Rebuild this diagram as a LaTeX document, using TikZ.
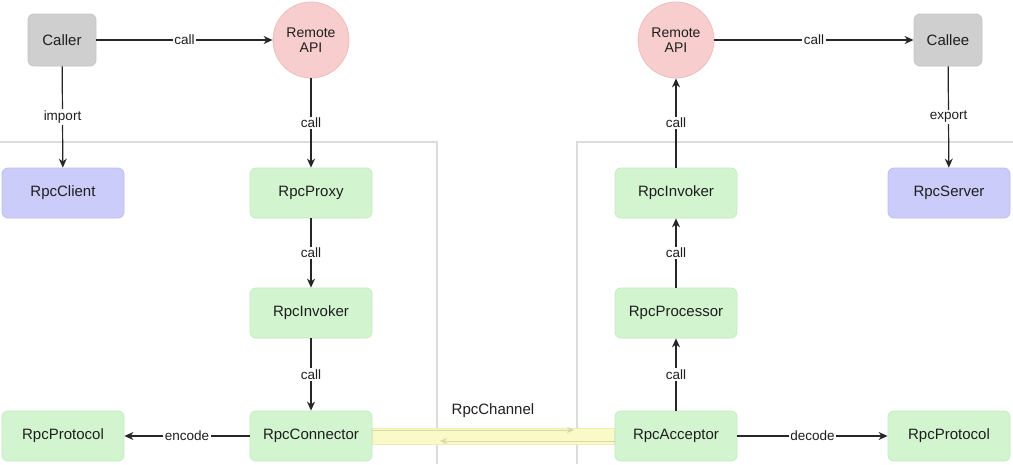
\documentclass[tikz,border=0pt]{standalone}
\usepackage{fontspec}
\setmainfont{Liberation Sans}
\usetikzlibrary{arrows.meta,backgrounds}
\definecolor{grayfill}{HTML}{CFCFCF}
\definecolor{grayedge}{HTML}{C4C4C4}
\definecolor{pinkfill}{HTML}{F8CDCD}
\definecolor{pinkedge}{HTML}{F0BDBD}
\definecolor{bluefill}{HTML}{CCCCFA}
\definecolor{blueedge}{HTML}{BDBDEE}
\definecolor{greenfill}{HTML}{D2F5D0}
\definecolor{greenedge}{HTML}{C2EBC0}
\definecolor{chanfill}{HTML}{FAFAC8}
\definecolor{chanedge}{HTML}{EDEDB5}
\definecolor{framecol}{HTML}{DCDCDC}
\definecolor{linecol}{HTML}{262626}
\definecolor{textcol}{HTML}{1E1E1E}
\tikzset{
  box/.style={rounded corners=6pt, minimum width=122pt, minimum height=50pt, inner sep=0pt,
    text=textcol, font=\fontsize{15}{17}\selectfont, line width=0.8pt},
  greenbox/.style={box, fill=greenfill, draw=greenedge},
  bluebox/.style={box, fill=bluefill, draw=blueedge},
  graybox/.style={box, fill=grayfill, draw=grayedge, minimum width=68pt, minimum height=52pt},
  api/.style={circle, minimum size=76pt, inner sep=0pt, fill=pinkfill, draw=pinkedge,
    text=textcol, align=center, font=\fontsize{14}{15.5}\selectfont, line width=0.8pt},
  conn/.style={draw=linecol, line width=1.2pt, -{Stealth[length=9pt,width=8pt]}},
  lbl/.style={fill=white, inner sep=1.5pt, text=textcol, font=\fontsize{13.5}{15}\selectfont},
  framel/.style={draw=framecol, line width=1.2pt},
  faint/.style={draw=chanedge!80!gray, line width=0.6pt, -{Stealth[length=7pt,width=6pt]}}
}
\begin{document}
\begin{tikzpicture}[x=1pt,y=-1pt]
\useasboundingbox (0,0) rectangle (1013,464);
% nodes
\node[graybox] (caller) at (62,40) {Caller};
\node[api] (rapiL) at (311,40) {Remote\\API};
\node[bluebox] (client) at (63,193) {RpcClient};
\node[greenbox] (proxy) at (311,193) {RpcProxy};
\node[greenbox] (invL) at (311,313) {RpcInvoker};
\node[greenbox] (connector) at (311,436) {RpcConnector};
\node[greenbox] (protoL) at (63,436) {RpcProtocol};
\node[api] (rapiR) at (676,40) {Remote\\API};
\node[graybox] (callee) at (948,40) {Callee};
\node[greenbox] (invR) at (676,193) {RpcInvoker};
\node[greenbox] (proc) at (676,313) {RpcProcessor};
\node[greenbox] (acc) at (676,436) {RpcAcceptor};
\node[greenbox] (protoR) at (949,436) {RpcProtocol};
\node[bluebox] (server) at (949,193) {RpcServer};
\begin{pgfonlayer}{background}
% frames
\draw[framel] (0,142) -- (437,142) -- (437,464);
\draw[framel] (1013,142) -- (577,142) -- (577,464);
% channel band
\draw[line width=17pt, draw=chanedge] (connector.east) -- (acc.west);
\draw[line width=15pt, draw=chanfill] ([xshift=0.5pt]connector.east) -- ([xshift=-0.5pt]acc.west);
\end{pgfonlayer}
\coordinate (chR) at (574,430);
\coordinate (chL) at (440,441);
\draw[faint] ([yshift=6pt]connector.east) -- (chR);
\draw[faint] ([yshift=-5pt]acc.west) -- (chL);
\node[text=textcol, font=\fontsize{15}{17}\selectfont] (chan) at (493,411) {RpcChannel};
% connectors
\draw[conn] (caller) -- node[lbl]{call} (rapiL);
\draw[conn] (caller) -- node[lbl]{import} (client);
\draw[conn] (rapiL) -- node[lbl]{call} (proxy);
\draw[conn] (proxy) -- node[lbl]{call} (invL);
\draw[conn] (invL) -- node[lbl]{call} (connector);
\draw[conn] (connector) -- node[lbl]{encode} (protoL);
\draw[conn] (rapiR) -- node[lbl]{call} (callee);
\draw[conn] (callee) -- node[lbl]{export} (server);
\draw[conn] (invR) -- node[lbl]{call} (rapiR);
\draw[conn] (proc) -- node[lbl]{call} (invR);
\draw[conn] (acc) -- node[lbl]{call} (proc);
\draw[conn] (acc) -- node[lbl]{decode} (protoR);
\end{tikzpicture}
\end{document}
